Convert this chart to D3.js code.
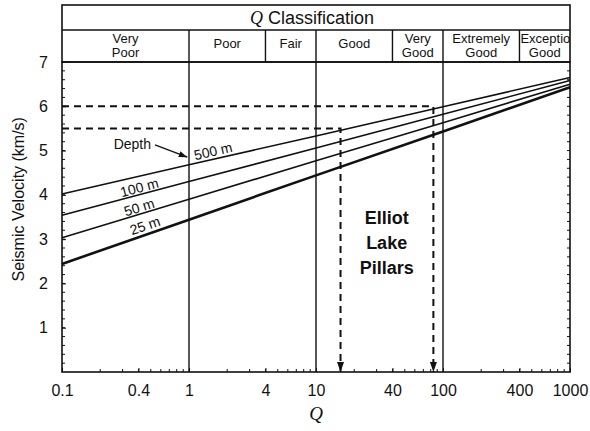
<!DOCTYPE html>
<html>
<head>
<meta charset="utf-8">
<script src="https://cdn.jsdelivr.net/npm/d3@7"></script>
<style>
  body { margin: 0; background: #fff; }
  svg { display: block; }
  text { font-family: "Liberation Sans", Arial, Helvetica, sans-serif; fill: #111; }
</style>
</head>
<body>
<svg id="chart" width="590" height="431"></svg>
<script>
const qReadings = [0.1, 1, 10, 100, 1000];
const depthLabels = ["500 m", "100 m", "50 m", "25 m"];
const vel500 = [4.02, 4.68, 5.33, 5.99, 6.65];
const vel100 = [3.54, 4.30, 5.06, 5.82, 6.58];
const vel50 = [3.03, 3.90, 4.77, 5.63, 6.50];
const vel25 = [2.44, 3.44, 4.44, 5.43, 6.43];

// Q classification bands
const classBounds = [0.1, 1, 4, 10, 40, 100, 400, 1000];
const classNames = [["Very", "Poor"], ["Poor"], ["Fair"], ["Good"], ["Very", "Good"], ["Extremely", "Good"], ["Exceptionally", "Good"]];

// axes
const xTicks = [0.1, 0.4, 1, 4, 10, 40, 100, 400, 1000];
const yTicks = [1, 2, 3, 4, 5, 6, 7];
const gridQ = [1, 10, 100];

// Elliot Lake pillars: measured velocities and the Q they give
const pillarVel = [5.5, 6.0];
const pillarQ = [15.6, 84];

const svgWidth = 590, svgHeight = 431;
const margin = { top: 62, right: 20, bottom: 59, left: 62 };
const width = svgWidth - margin.left - margin.right;
const height = svgHeight - margin.top - margin.bottom;

const svg = d3.select("#chart");
const g = svg.append("g").attr("transform", `translate(${margin.left},${margin.top})`);

const x = d3.scaleLog().domain([0.1, 1000]).range([0, width]);
const y = d3.scaleLinear().domain([0, 7]).range([height, 0]);

// arrow heads
const defs = svg.append("defs");
defs.append("marker")
    .attr("id", "arr")
    .attr("viewBox", "0 0 10 7")
    .attr("refX", 10).attr("refY", 3.5)
    .attr("markerWidth", 10).attr("markerHeight", 7)
    .attr("markerUnits", "userSpaceOnUse")
    .attr("orient", "auto")
    .append("path").attr("d", "M0,0L10,3.5L0,7Z").attr("fill", "#111");
defs.append("marker")
    .attr("id", "arrSmall")
    .attr("viewBox", "0 0 10 7")
    .attr("refX", 10).attr("refY", 3.5)
    .attr("markerWidth", 9).attr("markerHeight", 6)
    .attr("markerUnits", "userSpaceOnUse")
    .attr("orient", "auto")
    .append("path").attr("d", "M0,0L10,3.5L0,7Z").attr("fill", "#111");
defs.append("clipPath").attr("id", "lastCell")
    .append("rect")
    .attr("x", margin.left + x(400)).attr("y", 0)
    .attr("width", x(1000) - x(400)).attr("height", margin.top);

// vertical grid lines at band edges
g.selectAll(".grid")
    .data(gridQ)
    .enter()
    .append("line")
    .attr("x1", d => x(d)).attr("x2", d => x(d))
    .attr("y1", 0).attr("y2", height)
    .attr("stroke", "#111")
    .attr("stroke-width", 1.4);

// minor ticks, inward
const yMinor = d3.range(1, 35).map(i => i * 0.2);
g.selectAll(".ymin")
    .data(yMinor)
    .enter()
    .append("line")
    .attr("x1", 0).attr("x2", 3)
    .attr("y1", d => y(d)).attr("y2", d => y(d))
    .attr("stroke", "#111").attr("stroke-width", 1);
g.selectAll(".ymin2")
    .data(yMinor)
    .enter()
    .append("line")
    .attr("x1", width).attr("x2", width - 3)
    .attr("y1", d => y(d)).attr("y2", d => y(d))
    .attr("stroke", "#111").attr("stroke-width", 1);
const xMinor = [];
[0.1, 1, 10, 100].forEach(dec => { for (let k = 2; k <= 9; k++) xMinor.push(dec * k); });
g.selectAll(".xmin")
    .data(xMinor)
    .enter()
    .append("line")
    .attr("x1", d => x(d)).attr("x2", d => x(d))
    .attr("y1", height).attr("y2", height - 3)
    .attr("stroke", "#111").attr("stroke-width", 1);

// depth lines
const series = [vel500, vel100, vel50, vel25];
const line = d3.line()
    .x(d => x(d[0]))
    .y(d => y(d[1]));
g.selectAll(".depth")
    .data(series)
    .enter()
    .append("path")
    .attr("d", vals => line(qReadings.map((q, i) => [q, vals[i]])))
    .attr("fill", "none")
    .attr("stroke", "#111")
    .attr("stroke-width", (d, i) => i === 3 ? 2.6 : 1.6);

// depth labels along lines
const labelQ = [1.6, 0.42, 0.42, 0.475];
const labelDy = [-3, -2, -2, -4];
series.forEach((vals, i) => {
    const interp = d3.scaleLog().domain(qReadings).range(vals);
    const px = x(labelQ[i]), py = y(interp(labelQ[i]));
    const ang = Math.atan2(y(vals[4]) - y(vals[0]), x(1000) - x(0.1)) * 180 / Math.PI;
    g.append("text")
        .attr("transform", `translate(${px},${py}) rotate(${ang})`)
        .attr("y", labelDy[i])
        .attr("text-anchor", "middle")
        .style("font-size", "14px")
        .text(depthLabels[i]);
});

g.append("text")
    .attr("x", x(0.54) - 4).attr("y", y(5.13) + 4)
    .attr("text-anchor", "end")
    .style("font-size", "14px")
    .text("Depth");
g.append("line")
    .attr("x1", x(0.54)).attr("y1", y(5.13))
    .attr("x2", x(0.97)).attr("y2", y(4.85))
    .attr("stroke", "#111").attr("stroke-width", 1.3)
    .attr("marker-end", "url(#arrSmall)");

// Elliot Lake dashed read-offs
g.selectAll(".pillar")
    .data(pillarVel)
    .enter()
    .append("path")
    .attr("d", (v, i) => `M${x(0.1)},${y(v)}H${x(pillarQ[i])}V${y(0)}`)
    .attr("fill", "none")
    .attr("stroke", "#111")
    .attr("stroke-width", 2)
    .attr("stroke-dasharray", "7,5")
    .attr("marker-end", "url(#arr)");

const pillarText = g.append("text")
    .attr("text-anchor", "middle")
    .style("font-size", "18px")
    .style("font-weight", "bold");
["Elliot", "Lake", "Pillars"].forEach((t, i) => {
    pillarText.append("tspan")
        .attr("x", x(36))
        .attr("y", y(3.5) + 6.5 + i * 25)
        .text(t);
});

// axes
g.append("g")
    .attr("transform", `translate(0,${height})`)
    .call(d3.axisBottom(x).tickValues(xTicks).tickFormat(d => d3.format("~g")(d)).tickSizeInner(-4).tickSizeOuter(0).tickPadding(13))
    .call(a => a.select(".domain").remove())
    .selectAll("text")
    .style("font-size", "16px")
    .style("font-family", "'Liberation Sans', Arial, sans-serif")
    .attr("fill", "#111");
g.append("g")
    .call(d3.axisLeft(y).tickValues(yTicks).tickFormat(d3.format("d")).tickSizeInner(-4).tickSizeOuter(0).tickPadding(14))
    .call(a => a.select(".domain").remove())
    .selectAll("text")
    .style("font-size", "16px")
    .style("font-family", "'Liberation Sans', Arial, sans-serif")
    .attr("fill", "#111");
g.selectAll(".tick line").attr("stroke", "#111");

// plot frame
g.append("rect")
    .attr("x", 0).attr("y", 0)
    .attr("width", width).attr("height", height)
    .attr("fill", "none")
    .attr("stroke", "#111")
    .attr("stroke-width", 1.6);

// axis titles
svg.append("text")
    .attr("transform", `translate(24,${margin.top + y(3.9)}) rotate(-90)`)
    .attr("text-anchor", "middle")
    .style("font-size", "16px")
    .text("Seismic Velocity (km/s)");
svg.append("text")
    .attr("x", margin.left + x(10))
    .attr("y", 420)
    .attr("text-anchor", "middle")
    .style("font-family", "'Liberation Serif', 'Times New Roman', serif")
    .style("font-style", "italic")
    .style("font-size", "19px")
    .text("Q");

// Q classification header
const head = svg.append("g").attr("transform", `translate(${margin.left},0)`);
const headTop = 5, headMid = 30;
head.append("rect")
    .attr("x", 0).attr("y", headTop)
    .attr("width", width).attr("height", margin.top - headTop)
    .attr("fill", "none")
    .attr("stroke", "#111")
    .attr("stroke-width", 1.6);
head.append("line")
    .attr("x1", 0).attr("x2", width)
    .attr("y1", headMid).attr("y2", headMid)
    .attr("stroke", "#111").attr("stroke-width", 1.4);
head.selectAll(".cell")
    .data(classBounds.slice(1, -1))
    .enter()
    .append("line")
    .attr("x1", d => x(d)).attr("x2", d => x(d))
    .attr("y1", headMid).attr("y2", margin.top)
    .attr("stroke", "#111").attr("stroke-width", 1.4);

const title = head.append("text")
    .attr("x", width / 2 - 4)
    .attr("y", 24)
    .attr("text-anchor", "middle")
    .style("font-size", "18px");
title.append("tspan")
    .style("font-family", "'Liberation Serif', 'Times New Roman', serif")
    .style("font-style", "italic")
    .text("Q");
title.append("tspan").text(" Classification");

classNames.forEach((lines, i) => {
    const last = i === classNames.length - 1;
    const cx = (x(classBounds[i]) + x(classBounds[i + 1])) / 2;
    const t = head.append("text")
        .style("font-size", "13px")
        .attr("text-anchor", "middle");
    if (last) t.attr("clip-path", "url(#lastCell)").attr("transform", `translate(${-margin.left},0)`);
    lines.forEach((s, j) => {
        const ty = lines.length === 1 ? 47.5 : 43 + j * 14;
        let tx = last ? cx + margin.left : cx;
        const ts = t.append("tspan").attr("x", tx).attr("y", ty).text(s);
        if (last && j === 0) ts.attr("x", margin.left + x(400) + 1).attr("text-anchor", "start");
    });
});
</script>
</body>
</html>
